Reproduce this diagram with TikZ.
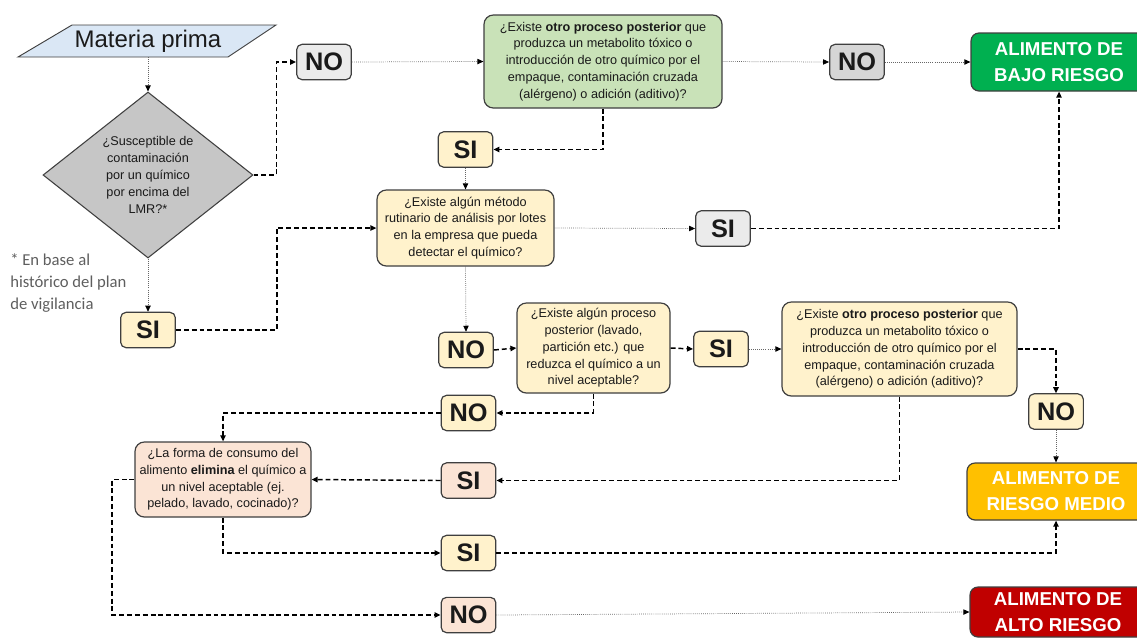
\documentclass[tikz,border=0pt]{standalone}
\usepackage{fontspec}
\setmainfont{Liberation Sans}
\newfontfamily\notefont{Carlito}
\usetikzlibrary{arrows.meta,shapes.geometric}

\definecolor{edge}{HTML}{3F3F3F}
\definecolor{ink}{HTML}{1A1A1A}
\definecolor{mpfill}{HTML}{DAE7F5}
\definecolor{diafill}{HTML}{C6C6C6}
\definecolor{graylight}{HTML}{EBEBEB}
\definecolor{graymid}{HTML}{D6D6D6}
\definecolor{greenq}{HTML}{C9E2B8}
\definecolor{yel}{HTML}{FFF2CC}
\definecolor{pink}{HTML}{FBE4D5}
\definecolor{lowrisk}{HTML}{00B050}
\definecolor{midrisk}{HTML}{FFC000}
\definecolor{highrisk}{HTML}{C00000}
\definecolor{notegray}{HTML}{5E5E5E}

\begin{document}
\begin{tikzpicture}[x=0.75pt,y=-0.75pt,
  box/.style={draw=edge, line width=0.9pt, rounded corners=7pt, align=center,
    inner sep=0pt, text=ink, font=\fontsize{9.5}{12.6}\selectfont},
  ans/.style={draw=edge, line width=0.9pt, rounded corners=4pt, minimum width=41pt,
    minimum height=26.5pt, inner sep=0pt, text=ink, font=\fontsize{19}{19}\selectfont\bfseries},
  risk/.style={draw=edge, line width=0.9pt, rounded corners=6pt, inner sep=0pt, align=center,
    text=white, font=\fontsize{14}{19.5}\selectfont\bfseries},
  dashlink/.style={-{Triangle[length=4.5pt,width=4pt]}, line width=1.1pt, black,
    dash pattern=on 3.7pt off 2.2pt},
  dotlink/.style={-{Triangle[length=4.5pt,width=4pt,color=black]}, line width=0.55pt,
    draw=black!60, densely dotted},
]
\useasboundingbox (0,0) rectangle (1137,637);
\clip (0,0) rectangle (1137,637);

% starting input
\draw[draw=edge, fill=mpfill, line width=0.7pt] (72,25) -- (276,25) -- (228,57) -- (18,57) -- cycle;
\node[minimum height=24pt, inner sep=0pt, text=ink, font=\fontsize{18}{18}\selectfont] (mp) at (148,41) {Materia prima};

% first decision
\node[diamond, draw=edge, fill=diafill, line width=0.8pt, aspect=1.27, minimum width=157.5pt,
  minimum height=124.5pt, inner sep=0pt, align=center, text=ink,
  font=\fontsize{9.5}{12.7}\selectfont] (dia) at (148,175)
  {¿Susceptible de\\contaminación\\por un químico\\por encima del\\LMR?*};

\node[anchor=north west, align=left, inner sep=0pt, text=notegray,
  font=\notefont\fontsize{12.5}{16.5}\selectfont] (note) at (10,253)
  {* En base al\\histórico del plan\\de vigilancia};

% top row
\node[ans, fill=graylight] (no1) at (324,62) {NO};
\node[box, fill=greenq, minimum width=178.5pt, minimum height=69.75pt] (q1) at (603,61.5)
  {¿Existe \textbf{otro proceso posterior} que\\produzca un metabolito tóxico o\\introducción de otro químico por el\\empaque, contaminación cruzada\\(alérgeno) o adición (aditivo)?};
\node[ans, fill=graymid] (no2) at (857,62) {NO};
\node[risk, fill=lowrisk, minimum width=132pt, minimum height=43.5pt] (low) at (1059,62)
  {ALIMENTO DE\\BAJO RIESGO};

% second row
\node[ans, fill=yel] (si1) at (465.5,149.5) {SI};
\node[box, fill=yel, minimum width=132.75pt, minimum height=57pt] (met) at (465.5,228)
  {¿Existe algún método\\rutinario de análisis por lotes\\en la empresa que pueda\\detectar el químico?};
\node[ans, fill=graylight] (si2) at (723,228.5) {SI};
\node[ans, fill=yel] (si0) at (148,330) {SI};

% third row
\node[ans, fill=yel] (no3) at (466,350) {NO};
\node[box, fill=yel, minimum width=114.75pt, minimum height=67.5pt] (proc) at (593.5,348)
  {¿Existe algún proceso\\posterior (lavado,\\partición etc.) que\\reduzca el químico a un\\nivel aceptable?};
\node[ans, fill=yel] (si3) at (721,349) {SI};
\node[box, fill=yel, minimum width=176.25pt, minimum height=70.5pt] (q2) at (899.5,349)
  {¿Existe \textbf{otro proceso posterior} que\\produzca un metabolito tóxico o\\introducción de otro químico por el\\empaque, contaminación cruzada\\(alérgeno) o adición (aditivo)?};
\node[ans, fill=yel] (no4) at (1056,411.5) {NO};
\node[risk, fill=midrisk, minimum width=133.5pt, minimum height=42.75pt] (mid) at (1056,491.5)
  {ALIMENTO DE\\RIESGO MEDIO};

% bottom rows
\node[ans, fill=yel] (no5) at (468.5,413) {NO};
\node[box, fill=pink, minimum width=132pt, minimum height=56.25pt] (cons) at (223,479.5)
  {¿La forma de consumo del\\alimento \textbf{elimina} el químico a\\un nivel aceptable (ej.\\pelado, lavado, cocinado)?};
\node[ans, fill=pink] (sip) at (468.5,480.5) {SI};
\node[ans, fill=yel] (si4) at (468.5,553) {SI};
\node[ans, fill=pink] (no6) at (468.5,615) {NO};
\node[risk, fill=highrisk, minimum width=132pt, minimum height=37.5pt] (high) at (1058,612)
  {ALIMENTO DE\\ALTO RIESGO};

% connectors
\draw[dotlink] (mp.south) -- (dia.north);
\draw[dashlink] (dia.east) -- ++(23,0) |- (no1.west);
\draw[dotlink] (no1.east) -- (q1.west);
\draw[dotlink] (q1.east) -- (no2.west);
\draw[dotlink] (no2.east) -- (low.west);
\draw[dashlink] (q1.south) |- (si1.east);
\draw[dotlink] (si1.south) -- (met.north);
\draw[dotlink] (met.east) -- (si2.west);
\draw[dashlink] (si2.east) -| (low.south);
\draw[dotlink] (dia.south) -- (si0.north);
\draw[dashlink] (si0.east) -- ++(101,0) |- (met.west);
\draw[dotlink] (met.south) -- (no3.north);
\draw[dashlink] (no3.east) -- (proc.west);
\draw[dashlink] (proc.east) -- (si3.west);
\draw[dotlink] (si3.east) -- (q2.west);
\draw[dashlink] (q2.east) -| (no4.north);
\draw[dotlink] (no4.south) -- (mid.north);
\draw[dashlink] (q2.south) |- (sip.east);
\draw[dashlink] (proc.south) |- (no5.east);
\draw[dashlink] (no5.west) -| (cons.north);
\draw[dashlink] (sip.west) -- (cons.east);
\draw[dashlink] (cons.south) |- (si4.west);
\draw[dashlink] (si4.east) -| (mid.south);
\draw[dashlink] (cons.west) -- ++(-22.5,0) |- (no6.west);
\draw[dotlink] (no6.east) -- (high.west);
\end{tikzpicture}
\end{document}
